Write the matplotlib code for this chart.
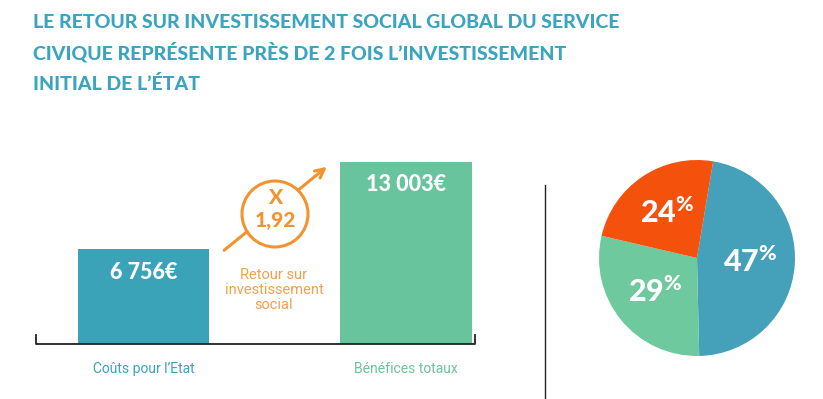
import matplotlib.pyplot as plt
from matplotlib.patches import Circle, FancyArrowPatch

plt.rcParams['font.family'] = ['Lato', 'DejaVu Sans']

# données
title_lines = ["LE RETOUR SUR INVESTISSEMENT SOCIAL GLOBAL DU SERVICE",
               "CIVIQUE REPRÉSENTE PRÈS DE 2 FOIS L’INVESTISSEMENT",
               "INITIAL DE L’ÉTAT"]
categories = ["Coûts pour l’Etat", "Bénéfices totaux"]
amounts = [6756, 13003]
amount_labels = ["6 756€", "13 003€"]
ratio_label = "1,92"
ratio_caption = "Retour sur\ninvestissement\nsocial"
pie_values = [47, 29, 24]

title_color = '#3BA4BE'
bar_colors = ['#3AA3B8', '#68C49C']
label_colors = ['#3AA0C0', '#6CC49A']
pie_colors = ['#45A0BA', '#6FC99E', '#F4520C']
orange = '#F39330'

W, H = 823, 399
fig = plt.figure(figsize=(W / 100, H / 100), dpi=100)

# calque en pixels pour le titre et les décorations
ov = fig.add_axes([0, 0, 1, 1], zorder=3)
ov.set_xlim(0, W)
ov.set_ylim(H, 0)
ov.axis('off')

for line, yb in zip(title_lines, [28.5, 59, 89.5]):
    ov.text(33, yb, line, color=title_color, fontsize=14, fontweight='black',
            va='baseline', ha='left')

# barres
ax = fig.add_axes([36 / W, (H - 344) / H, (475 - 36) / W, (344 - 162) / H])
ax.bar(range(len(amounts)), amounts, width=0.5, color=bar_colors)
ax.set_xlim(-0.41, 1.263)
ax.set_ylim(0, max(amounts))
for s in ax.spines.values():
    s.set_visible(False)
ax.set_yticks([])
ax.set_xticks(range(len(categories)), categories)
ax.tick_params(axis='x', length=0, pad=13)
for lab, c in zip(ax.get_xticklabels(), label_colors):
    lab.set_color(c)
    lab.set_fontfamily(['Roboto', 'DejaVu Sans'])
    lab.set_fontsize(10)
ax.plot([0, 0, 1, 1], [0.05, 0, 0, 0.05], transform=ax.transAxes,
        color='#222222', lw=1.3, clip_on=False)
for i, (v, t) in enumerate(zip(amounts, amount_labels)):
    ax.annotate(t, (i, v), xytext=(0, -16.5), textcoords='offset points',
                ha='center', va='center', color='white', fontsize=15.5,
                fontweight='black')

# flèche et cercle
ov.add_patch(FancyArrowPatch((222, 252), (329, 165), arrowstyle='->',
                             mutation_scale=16, lw=2.2, color=orange))
ov.add_patch(Circle((275, 214), 33, fc='white', ec=orange, lw=2.2, zorder=4))
ov.text(275, 197, "X", color=orange, fontsize=15, fontweight='black',
        ha='center', va='center', zorder=5)
ov.text(275, 221, ratio_label, color=orange, fontsize=15, fontweight='black',
        ha='center', va='center', zorder=5)
ov.text(274, 290, ratio_caption, color='#F5A04C', fontsize=10.5,
        family=['Roboto', 'DejaVu Sans'], ha='center', va='center',
        linespacing=1.1)

# séparateur
ov.plot([545, 545], [185, 399], color='#222222', lw=1)

# camembert
pa = fig.add_axes([(697 - 98) / W, (H - 258 - 98) / H, 196 / W, 196 / H])
pa.pie(pie_values, colors=pie_colors, startangle=80.5, counterclock=False,
       autopct=lambda p: f'$\\mathregular{{{p:.0f}^{{\\%}}}}$',
       pctdistance=0.55,
       textprops=dict(color='white', fontsize=22, fontweight='black'))
pa.set_xlim(-1, 1)
pa.set_ylim(-1, 1)

fig.savefig('out.png', dpi=100)
